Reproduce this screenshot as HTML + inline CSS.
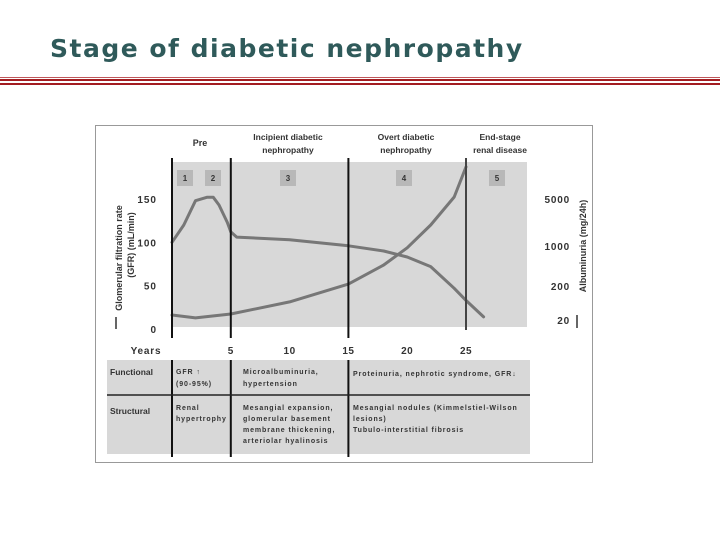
<!DOCTYPE html>
<html><head><meta charset="utf-8">
<style>
html,body{margin:0;padding:0;background:#fff;}
body{width:720px;height:540px;position:relative;overflow:hidden;font-family:"Liberation Sans",sans-serif;}
#title{position:absolute;left:50px;top:34px;font-family:"DejaVu Sans","Liberation Sans",sans-serif;font-size:25px;font-weight:bold;color:#2f5a5a;letter-spacing:1.5px;white-space:nowrap;}
.rule{position:absolute;left:0;width:720px;background:#a31d21;}
svg{position:absolute;left:0;top:0;}
svg text{font-family:"Liberation Sans",sans-serif;fill:#333;font-weight:bold;}
</style></head><body>
<div id="title">Stage of diabetic nephropathy</div>
<div class="rule" style="top:77px;height:1px;background:#c0575a;"></div>
<div class="rule" style="top:79px;height:2px;"></div>
<div class="rule" style="top:83px;height:2px;"></div>
<svg id="chart" width="720" height="540"></svg>
<script>
const gfrYears=[0,1,2,3,3.5,4,4.7,5,5.5,10,15,18,20,22,24,25,26.5];
const gfrValues=[100,120,148,152,152,143,123,112,106,103,96,90,83,72,47,33,14];
const albYears=[0,2,5,10,15,18,20,22,24,25];
const albValues=[28,23,30,68,216,465,930,2050,5350,15000];
const xTicks=[5,10,15,20,25];
const gfrTicks=[0,50,100,150];
const albTicks=[20,200,1000,5000];
const stageBoundaries=[0,5,15,25];

const NS="http://www.w3.org/2000/svg";
const svg=document.getElementById('chart');
function el(t,a,p){const e=document.createElementNS(NS,t);for(const k in a)e.setAttribute(k,a[k]);(p||svg).appendChild(e);return e;}
function tx(x,y,s,size,anchor,name,extra){const e=el('text',Object.assign({x:x,y:y,'font-size':size,'text-anchor':anchor||'start'},extra||{}));e.textContent=s;return e;}
const xs=yr=>172+yr*11.76;
const ys=v=>329-v*0.867;
const albPix=[320,286,246,199];
function ya(v){
  const lv=Math.log10(v);
  let i=0;
  if(v>=albTicks[2]) i=2; else if(v>=albTicks[1]) i=1; else i=0;
  const l0=Math.log10(albTicks[i]),l1=Math.log10(albTicks[i+1]);
  return albPix[i]+(lv-l0)/(l1-l0)*(albPix[i+1]-albPix[i]);
}
let r=el('rect',{x:95.5,y:125.5,width:497,height:337,fill:'#fff',stroke:'#999','stroke-width':1});

r=el('rect',{x:172,y:162,width:355,height:165,fill:'#d8d8d8'});

r=el('rect',{x:107,y:360,width:423,height:94,fill:'#d8d8d8'});

tx(200,146,'Pre',9,'middle','stage-pre-label');
tx(288,140,'Incipient diabetic',8.5,'middle','stage-incipient-label');
tx(288,153,'nephropathy',8.5,'middle','stage-incipient-label-2');
tx(406,140,'Overt diabetic',8.5,'middle','stage-overt-label');
tx(406,153,'nephropathy',8.5,'middle','stage-overt-label-2');
tx(500,140,'End-stage',8.5,'middle','stage-endstage-label');
tx(500,153,'renal disease',8.5,'middle','stage-endstage-label-2');
[[1,185],[2,213],[3,288],[4,404],[5,497]].forEach(([n,x])=>{
  const b=el('rect',{x:x-8,y:170,width:16,height:16,fill:'#b8b8b8'});
  
  tx(x,181,String(n),8,'middle','stage-number-'+n);
});
function path(xsArr,vals,fy){return xsArr.map((x,i)=>(i?'L':'M')+xs(x).toFixed(1)+' '+fy(vals[i]).toFixed(1)).join(' ');}
let p=el('path',{d:path(gfrYears,gfrValues,ys),fill:'none',stroke:'#777','stroke-width':3,'stroke-linejoin':'round','stroke-linecap':'round'});

p=el('path',{d:path(albYears,albValues,ya),fill:'none',stroke:'#777','stroke-width':3,'stroke-linejoin':'round','stroke-linecap':'round'});

stageBoundaries.forEach(yr=>{
  const x=xs(yr);
  const l=el('line',{x1:x,y1:158,x2:x,y2:yr===25?330:338,stroke:yr===25?'#444':'#111','stroke-width':2});
  
  if(yr<25){const l2=el('line',{x1:x,y1:360,x2:x,y2:457,stroke:'#111','stroke-width':2});
  }
});
gfrTicks.forEach(v=>tx(157,ys(v)+4,String(v),10,'end','gfr-tick-'+v,{'letter-spacing':'1'}));
albTicks.forEach(v=>tx(570,ya(v)+4,String(v),10,'end','albuminuria-tick-'+v,{'letter-spacing':'0.8'}));
xTicks.forEach(v=>tx(xs(v),354,String(v),10,'middle','year-tick-'+v,{'letter-spacing':'0.5'}));
tx(146,354,'Years',10,'middle','x-axis-title',{'letter-spacing':'0.8'});
tx(122,258,'Glomerular filtration rate',9,'middle','y-axis-title-left',{transform:'rotate(-90 122 258)'});
tx(134,245,'(GFR) (mL/min)',9,'middle','y-axis-title-left-2',{transform:'rotate(-90 134 245)'});
tx(586,246,'Albuminuria (mg/24h)',9,'middle','y-axis-title-right',{transform:'rotate(-90 586 246)'});
r=el('rect',{x:115,y:317,width:2,height:12,fill:'#666'});
r=el('rect',{x:576,y:315,width:2,height:13,fill:'#666'});
const hl=el('line',{x1:107,y1:395,x2:530,y2:395,stroke:'#222','stroke-width':1.5});

tx(110,375,'Functional',8.5,'start','row-label-functional');
tx(110,414,'Structural',8.5,'start','row-label-structural');
const cells=[
 [176,374,'GFR ↑'],[176,386,'(90-95%)'],
 [243,374,'Microalbuminuria,'],[243,386,'hypertension'],
 [353,376,'Proteinuria, nephrotic syndrome, GFR↓'],
 [176,410,'Renal'],[176,421,'hypertrophy'],
 [243,410,'Mesangial expansion,'],[243,421,'glomerular basement'],[243,432,'membrane thickening,'],[243,443,'arteriolar hyalinosis'],
 [353,410,'Mesangial nodules (Kimmelstiel-Wilson'],[353,421,' lesions)'],[353,432,'Tubulo-interstitial fibrosis']
];
cells.forEach((c,i)=>tx(c[0],c[1],c[2],7,'start','table-cell-'+i,{'letter-spacing':'0.9'}));
</script>
</body></html>
